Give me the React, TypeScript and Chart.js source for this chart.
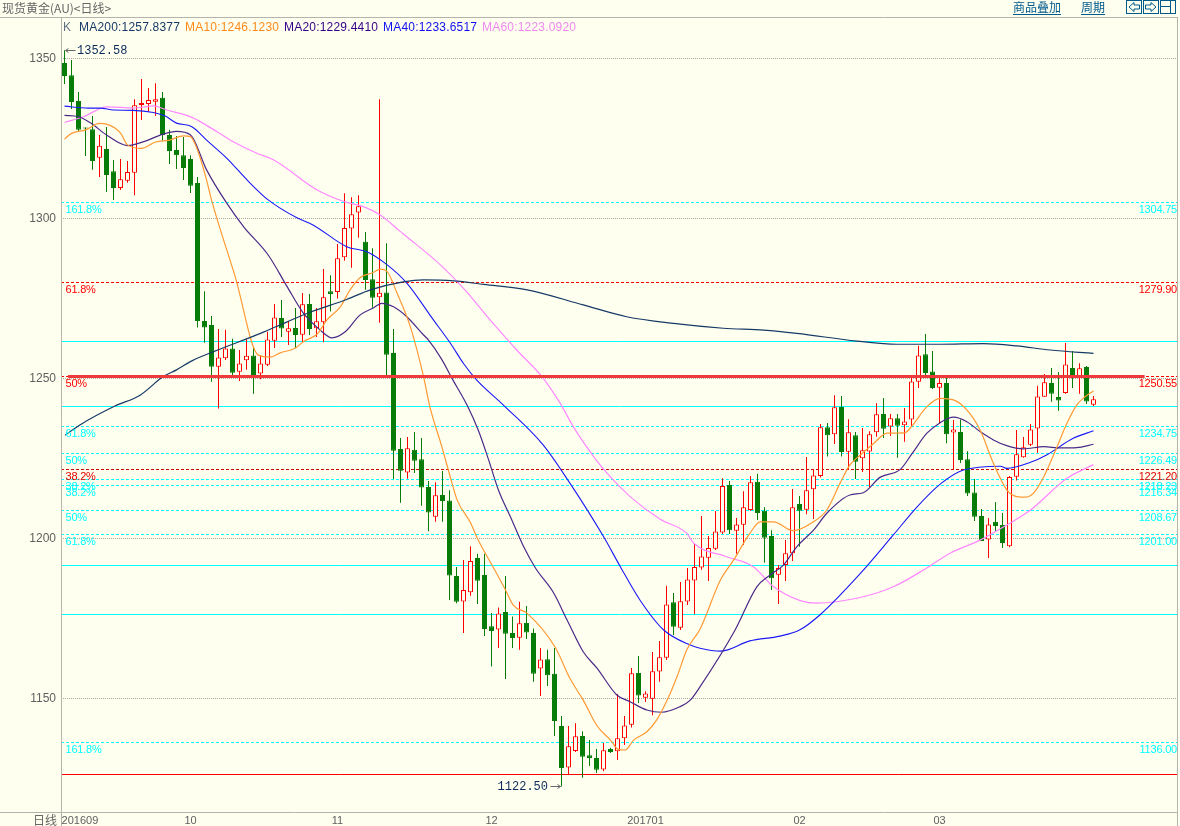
import React, { useEffect, useRef } from "react";
import { Chart, registerables } from "chart.js";

Chart.register(...registerables);

const openPrices = [
  1348.6,1344.8,1336.7,1328.3,1327.9,1319.0,1321.7,1314.8,1309.5,1311.8,
  1314.3,1335.5,1335.8,1336.5,1337.7,1326.1,1321.4,1319.8,1318.6,1311.1,
  1268.0,1266.7,1253.7,1256.3,1259.4,1252.1,1255.7,1257.2,1251.6,1254.3,
  1261.8,1268.9,1264.6,1265.8,1263.7,1273.3,1265.7,1267.6,1277.3,1277.0,
  1287.9,1296.9,1301.9,1292.7,1281.0,1275.4,1276.9,1258.0,1228.0,1220.6,
  1227.7,1224.8,1216.1,1206.8,1213.6,1211.9,1188.3,1180.3,1183.2,1193.9,
  1188.6,1172.6,1171.6,1177.0,1170.5,1169.0,1173.6,1170.5,1159.4,1162.3,
  1157.7,1141.4,1128.4,1133.6,1138.3,1132.3,1131.4,1127.8,1134.2,1133.5,
  1137.6,1141.8,1158.0,1150.2,1149.9,1158.4,1162.7,1180.1,1172.1,1180.3,
  1186.9,1190.9,1194.0,1196.8,1201.9,1216.7,1202.4,1204.3,1208.9,1217.7,
  1208.7,1200.8,1188.7,1191.7,1195.4,1210.8,1209.0,1215.4,1219.5,1234.8,
  1232.6,1241.1,1227.1,1232.3,1225.1,1227.2,1233.2,1238.9,1235.0,1237.6,
  1235.4,1237.2,1249.0,1257.6,1252.2,1247.1,1248.6,1233.1,1233.3,1224.8,
  1214.4,1207.0,1199.7,1205.2,1204.2,1197.6,1219.3,1225.4,1229.3,1234.4,
  1244.3,1248.6,1244.2,1245.5,1253.3,1250.6,1253.6,1241.8,
];
const closePrices = [
  1344.5,1336.4,1327.7,1328.1,1318.0,1322.7,1313.6,1309.5,1312.3,1314.5,
  1335.4,1336.1,1337.0,1337.3,1326.1,1321.1,1319.8,1315.8,1310.2,1268.0,
  1265.9,1253.7,1256.6,1259.4,1251.8,1254.7,1257.1,1250.1,1254.7,1262.2,
  1269.1,1265.6,1265.7,1263.6,1273.2,1265.5,1267.9,1275.4,1276.4,1287.6,
  1297.0,1301.3,1303.8,1280.8,1275.2,1276.8,1257.4,1227.4,1221.2,1228.2,
  1224.3,1215.9,1208.1,1213.5,1211.7,1188.4,1180.2,1183.9,1193.0,1186.8,
  1171.7,1171.1,1176.6,1170.2,1168.9,1173.5,1170.6,1157.7,1162.2,1157.3,
  1143.0,1128.3,1135.1,1138.2,1131.8,1131.4,1127.7,1133.8,1133.3,1137.6,
  1141.6,1157.9,1150.9,1151.6,1158.5,1162.9,1179.4,1172.4,1180.4,1187.2,
  1191.1,1194.4,1197.0,1202.2,1216.4,1202.6,1204.4,1209.8,1217.6,1208.0,
  1200.2,1187.6,1190.8,1195.4,1209.8,1208.7,1215.1,1219.7,1234.8,1232.3,
  1241.0,1227.0,1233.2,1224.0,1227.6,1232.6,1238.8,1234.3,1237.6,1235.2,
  1236.6,1249.1,1257.2,1251.7,1247.0,1248.6,1232.6,1234.1,1224.5,1214.1,
  1206.8,1199.2,1204.4,1203.9,1198.6,1219.2,1226.3,1228.5,1234.1,1244.4,
  1248.8,1245.2,1243.1,1254.4,1250.8,1253.2,1242.8,1243.5,
];
const highPrices = [
  1352.58,1349.5,1339.5,1328.4,1332.0,1326.1,1328.6,1318.3,1318.6,1318.0,
  1337.3,1343.6,1340.8,1342.3,1339.5,1327.7,1325.8,1325.5,1319.8,1313.0,
  1277.3,1269.5,1265.5,1265.2,1262.4,1258.9,1262.3,1259.5,1257.3,1264.6,
  1273.3,1274.5,1268.0,1272.0,1276.7,1276.4,1272.0,1284.2,1282.3,1292.0,
  1307.9,1306.6,1307.3,1295.8,1290.7,1337.3,1292.3,1265.5,1231.4,1231.7,
  1233.3,1231.4,1218.0,1217.6,1221.1,1215.1,1191.1,1193.3,1197.6,1195.2,
  1195.2,1176.7,1178.4,1188.3,1175.6,1180.2,1178.9,1171.9,1165.8,1165.2,
  1165.8,1144.5,1141.4,1142.3,1139.8,1137.0,1134.2,1136.1,1134.6,1151.4,
  1144.5,1159.5,1163.3,1152.3,1164.5,1168.0,1185.2,1183.0,1186.4,1190.8,
  1198.3,1207.0,1200.8,1208.6,1218.8,1218.0,1206.4,1214.8,1219.5,1220.2,
  1209.8,1202.6,1191.7,1199.5,1215.5,1213.3,1225.5,1221.7,1235.8,1236.1,
  1244.8,1244.5,1237.3,1233.3,1234.5,1233.5,1242.3,1243.9,1238.9,1238.9,
  1240.8,1250.8,1260.2,1263.9,1258.6,1250.6,1250.3,1237.0,1237.2,1227.3,
  1218.6,1209.2,1206.4,1211.4,1208.0,1219.5,1233.9,1231.7,1235.8,1247.7,
  1251.4,1253.3,1252.0,1261.1,1258.6,1254.8,1253.9,1244.5,
];
const lowPrices = [
  1342.0,1334.2,1327.0,1319.5,1315.2,1313.0,1308.3,1305.8,1308.9,1311.2,
  1307.3,1330.8,1333.3,1332.0,1324.3,1317.0,1315.5,1312.0,1308.0,1265.9,
  1261.2,1249.0,1240.6,1255.8,1250.6,1249.2,1252.7,1245.2,1249.8,1253.9,
  1259.5,1263.0,1260.5,1259.5,1261.5,1263.6,1263.0,1261.3,1270.9,1275.0,
  1286.8,1284.6,1294.0,1277.7,1272.1,1267.4,1251.1,1218.6,1211.2,1218.7,
  1220.5,1210.2,1202.3,1205.2,1205.2,1180.8,1179.8,1170.5,1182.1,1179.5,
  1169.5,1160.0,1165.8,1156.1,1165.8,1165.2,1168.6,1155.2,1150.8,1153.9,
  1138.3,1122.5,1126.1,1133.3,1125.2,1128.9,1126.7,1127.3,1133.0,1130.8,
  1135.5,1140.9,1148.6,1148.9,1144.8,1155.2,1162.0,1169.8,1171.4,1179.2,
  1176.4,1190.2,1186.7,1196.4,1201.4,1201.4,1195.2,1198.0,1208.7,1205.8,
  1192.4,1183.9,1179.5,1186.7,1193.0,1197.4,1207.6,1206.1,1219.1,1225.6,
  1229.5,1225.6,1221.4,1218.6,1220.8,1216.0,1231.8,1231.4,1232.0,1225.2,
  1230.2,1235.0,1247.0,1250.4,1246.7,1236.0,1229.8,1221.6,1223.6,1213.3,
  1205.5,1199.2,1193.9,1202.3,1197.0,1197.3,1218.1,1225.2,1228.9,1226.8,
  1244.2,1242.7,1239.9,1245.2,1247.0,1245.2,1242.0,1241.4,
];

// Moving averages as [bar number, value] pairs.
const ma10: [number, number][] = [
  [0,1324.8],[1,1326.6],[3,1327.7],[5,1329.7],[6,1329.5],[8,1326.7],[9,1323.0],[11,1321.9],[13,1323.9],[15,1324.5],
  [17,1325.8],[18,1325.6],[19,1321.4],[20.3,1312.0],[21,1305.8],[24.4,1281.7],[27.7,1257.3],[29.4,1256.7],[30.8,1258.0],[33,1259.5],
  [34.1,1261.5],[36.1,1263.9],[37.5,1268.3],[39.4,1272.4],[40.8,1277.7],[42.2,1281.5],[44.1,1283.1],[45.1,1284.2],[46.1,1283.4],[47.5,1276.7],
  [49.4,1266.2],[51.3,1250.5],[52.2,1241.1],[53.9,1228.7],[55.1,1219.3],[56.1,1212.0],[58,1204.9],[59.1,1199.5],[61.3,1190.8],[63,1183.9],
  [64.1,1179.2],[66.1,1176.6],[70.1,1166.0],[72.2,1156.3],[74.1,1149.5],[76.1,1141.4],[78,1137.0],[79.1,1134.1],[80.1,1133.9],[81.3,1137.0],
  [83.2,1139.6],[84.6,1143.3],[86.1,1149.5],[87.5,1156.8],[88.9,1165.2],[90.8,1171.7],[93.7,1187.0],[95.6,1193.3],[97.9,1201.6],[99.4,1205.2],
  [101.3,1205.2],[104.1,1202.4],[107,1205.2],[108.9,1208.9],[110.8,1217.3],[112.2,1223.0],[113.7,1226.1],[115.6,1229.7],[117.5,1232.9],[120,1233.0],
  [121,1235.0],[123.2,1241.2],[125.1,1243.8],[127,1243.3],[128.9,1240.2],[130.8,1233.9],[132.7,1223.5],[134.6,1215.2],[135.6,1213.4],[137.2,1212.9],
  [138.4,1214.1],[139.9,1219.3],[141.8,1228.7],[143.2,1236.0],[144.6,1241.7],[145.8,1244.3],[147,1246.123],
];
const ma20: [number, number][] = [
  [0,1332.2],[2,1331.8],[3.7,1329.9],[6,1326.1],[9,1322.8],[11.3,1324.0],[14,1326.3],[16,1327.2],[18,1326.1],[20.3,1315.2],
  [23.2,1304.7],[25.6,1297.4],[29.1,1288.6],[31.8,1278.7],[34.1,1270.5],[36.5,1265.2],[38.2,1262.7],[40.1,1264.6],[42.2,1269.8],[44.1,1272.0],
  [45.3,1273.5],[47,1272.4],[48.9,1269.3],[51.3,1263.6],[52,1262.0],[53.8,1256.3],[55.5,1249.5],[57.5,1241.7],[59.1,1233.9],[60.6,1224.5],
  [62,1215.1],[63.7,1206.8],[65.6,1197.4],[67.3,1190.7],[69.9,1182.9],[71.8,1174.5],[74.1,1164.6],[76.1,1159.4],[78.9,1151.1],[80.8,1149.0],
  [83.2,1146.4],[85.3,1145.7],[87.9,1147.4],[89.4,1149.5],[90.8,1153.7],[95.8,1171.4],[98.9,1184.9],[100.8,1188.6],[102.7,1191.7],[104.6,1197.4],
  [107,1202.6],[108.9,1207.9],[112.2,1213.6],[114.1,1214.3],[116.5,1219.1],[119.4,1221.6],[121.1,1226.6],[123.2,1232.9],[125.1,1236.2],[127,1237.9],
  [128.9,1236.5],[130.8,1233.4],[132.7,1230.8],[134.6,1229.0],[137,1228.0],[139.9,1228.7],[142.3,1228.3],[144.6,1228.4],[147,1229.441],
];
const ma40: [number, number][] = [
  [0,1335.1],[3.4,1334.5],[5.1,1334.5],[7,1333.9],[9.8,1333.8],[12.7,1333.1],[14.4,1332.0],[16,1329.8],[18.2,1328.7],[20.3,1324.5],
  [23.2,1318.8],[26.1,1312.0],[29.1,1305.8],[33.2,1300.2],[35.5,1298.0],[40.3,1291.2],[43.2,1289.6],[46.1,1285.5],[48.9,1279.8],[52.7,1268.3],
  [55.1,1261.1],[57,1254.7],[58.9,1249.5],[62.7,1241.7],[68.4,1229.2],[72.2,1217.3],[77,1200.6],[79.4,1191.2],[82.2,1180.8],[85.6,1171.4],
  [89.4,1166.7],[90.8,1165.7],[93.7,1164.8],[97.9,1168.0],[102.2,1169.5],[105,1171.4],[107.9,1176.1],[113.7,1189.1],[118.4,1201.1],[121.8,1209.9],
  [125.1,1217.0],[128.4,1221.4],[133.7,1222.6],[134.6,1221.9],[138,1223.8],[140.3,1226.1],[144.1,1231.3],[147,1233.652],
];
const ma60: [number, number][] = [
  [0,1330.0],[2.7,1331.8],[6.1,1334.9],[9.9,1334.5],[12.7,1335.2],[14.6,1333.9],[18.2,1331.6],[21.8,1327.1],[24.1,1324.0],[27.5,1320.4],
  [29.9,1318.3],[36.1,1308.9],[39.9,1305.3],[42.7,1303.7],[45.1,1301.1],[48,1295.9],[48.9,1294.3],[53.7,1285.5],[57.2,1277.7],[60.8,1268.3],
  [64.6,1258.9],[68.2,1250.6],[70.8,1242.3],[72.7,1234.9],[75.1,1227.1],[77.5,1220.4],[80.8,1213.1],[85.1,1206.0],[88.9,1201.6],[89.9,1198.5],
  [94.6,1194.3],[98.4,1191.2],[101.3,1184.9],[105.1,1180.6],[107.5,1179.8],[114.1,1181.8],[118.4,1184.9],[122.9,1190.4],[126.5,1195.4],[130.8,1199.5],
  [134.6,1204.2],[138,1208.9],[143.2,1218.8],[147,1223.092],
];
const ma200: [number, number][] = [
  [0.1,1232.3],[2.2,1235.5],[7.2,1241.4],[10.8,1244.8],[14.1,1250.6],[16,1252.7],[18.2,1255.5],[21.3,1258.4],[28,1264.1],[31.8,1267.7],
  [35.1,1270.7],[40.3,1274.7],[43.7,1277.7],[48.4,1280.2],[51.3,1280.8],[55.6,1280.5],[59.9,1279.4],[66.1,1277.7],[74.1,1273.0],[80.3,1269.3],
  [87,1267.2],[94.1,1265.7],[99.9,1265.1],[104.6,1264.1],[113.2,1261.7],[118.9,1260.7],[125.1,1260.7],[131.3,1260.9],[136,1260.2],[140.8,1258.9],[147,1257.838],
];

const yTickValues = [1150, 1200, 1250, 1300, 1350];
const monthLabels = ["201609", "10", "11", "12", "201701", "02", "03"];
const monthBars = [2.2, 18, 39, 61, 83, 105, 125];

const fibValues = [1304.75, 1279.9, 1250.55, 1234.75, 1226.49, 1221.2, 1218.23, 1216.34, 1208.67, 1201.0, 1136.0];
const fibPercents = ["161.8%", "61.8%", "50%", "61.8%", "50%", "38.2%", "38.2%", "38.2%", "50%", "61.8%", "161.8%"];
const cyanSolidLevels = [1261.6, 1241.3, 1191.6, 1176.2];
const redSolidLevel = 1126.3;
const pivotLevel = 1250.55;
const pivotBars = [0.5, 154.3];
const fibColors = ["#00ffff", "#ff0000", "#ff0000", "#00ffff", "#00ffff", "#cc0000", "#00ffff", "#00ffff", "#00ffff", "#00ffff", "#00ffff"];

const BG = "#fffff0";
const AXIS = "#b4b4ac";
const SANS = '"Liberation Sans", Arial, sans-serif';
const CJK = '"Noto Sans CJK SC", sans-serif';
const MONO = '"Liberation Mono", monospace';

const maSeries = [
  { label: "MA200", data: ma200, color: "#163a66", text: "#163a66", width: 1.2, value: "1257.8377", x: 79 },
  { label: "MA10", data: ma10, color: "#ff9933", text: "#ff8a1a", width: 1.2, value: "1246.1230", x: 185 },
  { label: "MA20", data: ma20, color: "#4a2a88", text: "#330088", width: 1.2, value: "1229.4410", x: 284 },
  { label: "MA40", data: ma40, color: "#1a1af5", text: "#1010ee", width: 1.1, value: "1233.6517", x: 383 },
  { label: "MA60", data: ma60, color: "#ff88ff", text: "#ee88ee", width: 1.2, value: "1223.0920", x: 482 },
];

const chromePlugin = {
  id: "chrome",
  beforeDraw(chart: any) {
    const { ctx, width, height } = chart;
    ctx.save();
    ctx.fillStyle = BG;
    ctx.fillRect(0, 0, width, height);
    ctx.restore();
  },
  beforeDatasetsDraw(chart: any) {
    const { ctx, chartArea: a, scales } = chart;
    const y = scales.y;
    ctx.save();
    ctx.lineWidth = 1;
    ctx.strokeStyle = "#00ffff";
    cyanSolidLevels.forEach((v) => {
      const py = Math.floor(y.getPixelForValue(v)) + 0.5;
      ctx.beginPath(); ctx.moveTo(a.left, py); ctx.lineTo(a.right, py); ctx.stroke();
    });
    ctx.strokeStyle = "#ff0000";
    const ry = Math.floor(y.getPixelForValue(redSolidLevel)) + 0.5;
    ctx.beginPath(); ctx.moveTo(a.left, ry); ctx.lineTo(a.right, ry); ctx.stroke();
    ctx.setLineDash([3, 2]);
    fibValues.forEach((v, i) => {
      const py = Math.floor(y.getPixelForValue(v) - 0.7) + 0.5;
      ctx.strokeStyle = fibColors[i];
      ctx.beginPath(); ctx.moveTo(a.left, py); ctx.lineTo(a.right, py); ctx.stroke();
    });
    ctx.restore();
  },
  afterDatasetsDraw(chart: any) {
    const { ctx, chartArea: a, scales, height } = chart;
    const x = scales.x;
    const y = scales.y;
    ctx.save();

    // pivot band over the candles
    ctx.fillStyle = "#ee3a3a";
    const pivotY = Math.floor(y.getPixelForValue(pivotLevel) - 0.7);
    const x0 = x.getPixelForValue(pivotBars[0]);
    const x1 = x.getPixelForValue(pivotBars[1]);
    ctx.fillRect(x0, pivotY - 1, x1 - x0, 3);

    // level captions
    ctx.font = `11px ${SANS}`;
    ctx.textBaseline = "middle";
    ctx.letterSpacing = "-0.2px";
    fibValues.forEach((v, i) => {
      const py = Math.floor(y.getPixelForValue(v) - 0.7) + 7.5;
      const c = fibColors[i] === "#cc0000" ? "#e00000" : fibColors[i];
      ctx.fillStyle = c;
      ctx.textAlign = "left";
      ctx.fillText(fibPercents[i], a.left + 4.5, py);
      ctx.textAlign = "right";
      ctx.fillText(v.toFixed(2), 1177, py);
    });
    ctx.letterSpacing = "0px";

    // frame
    ctx.strokeStyle = AXIS;
    ctx.lineWidth = 1;
    ctx.beginPath();
    ctx.moveTo(0, 17.5); ctx.lineTo(1178, 17.5);
    ctx.moveTo(0, 812.5); ctx.lineTo(1178, 812.5);
    ctx.moveTo(61.5, 17.5); ctx.lineTo(61.5, height);
    ctx.moveTo(1177.5, 17.5); ctx.lineTo(1177.5, height);
    ctx.stroke();

    // header
    ctx.textBaseline = "middle";
    ctx.textAlign = "left";
    ctx.fillStyle = "#666666";
    ctx.font = `12px ${CJK}`;
    ctx.fillText("现货黄金(AU)<日线>", 2, 8);
    ctx.textAlign = "right";
    ctx.fillText("日线", 57, 820);
    ctx.textAlign = "left";

    ctx.font = `12px ${SANS}`;
    ctx.fillStyle = "#607080";
    ctx.fillText("K", 63, 28);
    ctx.letterSpacing = "0.2px";
    maSeries.forEach((m) => {
      ctx.fillStyle = m.text;
      ctx.fillText(`${m.label}:${m.value}`, m.x, 28);
    });
    ctx.letterSpacing = "0px";

    // top-right menu
    const menu = "#005a8c";
    ctx.fillStyle = menu;
    ctx.font = `12px ${CJK}`;
    ctx.fillText("商品叠加", 1013, 7);
    ctx.fillText("周期", 1081, 7);
    ctx.strokeStyle = menu;
    ctx.beginPath();
    ctx.moveTo(1013, 14.5); ctx.lineTo(1061, 14.5);
    ctx.moveTo(1081, 14.5); ctx.lineTo(1105, 14.5);
    ctx.stroke();
    ctx.strokeRect(1126.5, 0.5, 15, 13);
    ctx.strokeRect(1143.5, 0.5, 15, 13);
    ctx.strokeRect(1160.5, 0.5, 15, 13);
    ctx.beginPath();
    ctx.moveTo(1129, 7); ctx.lineTo(1134, 2.5); ctx.lineTo(1134, 5); ctx.lineTo(1139.5, 5);
    ctx.lineTo(1139.5, 9); ctx.lineTo(1134, 9); ctx.lineTo(1134, 11.5); ctx.closePath();
    ctx.moveTo(1156, 7); ctx.lineTo(1151, 2.5); ctx.lineTo(1151, 5); ctx.lineTo(1145.5, 5);
    ctx.lineTo(1145.5, 9); ctx.lineTo(1151, 9); ctx.lineTo(1151, 11.5); ctx.closePath();
    ctx.moveTo(1170.5, 0.5); ctx.lineTo(1170.5, 13.5);
    ctx.moveTo(1160.5, 6.5); ctx.lineTo(1170.5, 6.5);
    ctx.stroke();

    // high and low call-outs
    const hiIdx = highPrices.indexOf(Math.max(...highPrices));
    const loIdx = lowPrices.indexOf(Math.min(...lowPrices));
    const hx = x.getPixelForValue(hiIdx);
    const hy = Math.round(y.getPixelForValue(highPrices[hiIdx])) + 0.5;
    const lx = x.getPixelForValue(loIdx);
    const ly = Math.round(y.getPixelForValue(lowPrices[loIdx])) + 0.5;
    ctx.strokeStyle = "#666666";
    ctx.beginPath();
    ctx.moveTo(hx + 1, hy); ctx.lineTo(hx + 11, hy);
    ctx.moveTo(hx + 1, hy); ctx.lineTo(hx + 4, hy - 2);
    ctx.moveTo(hx + 1, hy); ctx.lineTo(hx + 4, hy + 2);
    ctx.moveTo(lx - 11, ly); ctx.lineTo(lx - 1, ly);
    ctx.moveTo(lx - 1, ly); ctx.lineTo(lx - 4, ly - 2);
    ctx.moveTo(lx - 1, ly); ctx.lineTo(lx - 4, ly + 2);
    ctx.stroke();
    ctx.fillStyle = "#0a2a5a";
    ctx.font = `12px ${MONO}`;
    ctx.textAlign = "left";
    ctx.fillText(highPrices[hiIdx].toFixed(2), hx + 12.5, hy + 0.5);
    ctx.textAlign = "right";
    ctx.fillText(lowPrices[loIdx].toFixed(2), lx - 13.5, ly + 0.5);
    ctx.restore();
  },
};

export default function App() {
  const ref = useRef<HTMLCanvasElement | null>(null);

  useEffect(() => {
    document.body.style.margin = "0";
    document.body.style.background = BG;
    const bars = openPrices.map((_, i) => i);
    const isUp = (i: number) => closePrices[i] >= openPrices[i];
    const chart = new Chart(ref.current as HTMLCanvasElement, {
      type: "bar",
      data: {
        datasets: [
          ...maSeries.map((m) => ({
            type: "line" as const,
            label: m.label,
            data: m.data.map(([x, y]) => ({ x, y })),
            borderColor: m.color,
            borderWidth: m.width,
            pointRadius: 0,
            cubicInterpolationMode: "monotone",
            fill: false,
            order: 1,
          })),
          {
            type: "bar" as const,
            label: "K body",
            data: bars.map((i) => ({ x: i, y: [openPrices[i], closePrices[i]] })),
            backgroundColor: bars.map((i) => (isUp(i) ? BG : "#087c08")),
            borderColor: bars.map((i) => (isUp(i) ? "#ff0000" : "#087c08")),
            borderWidth: 1,
            borderSkipped: false,
            inflateAmount: 0,
            barThickness: 5,
            minBarLength: 1,
            grouped: false,
            order: 2,
          },
          {
            type: "bar" as const,
            label: "K wick",
            data: bars.map((i) => ({ x: i, y: [lowPrices[i], highPrices[i]] })),
            backgroundColor: bars.map((i) => (isUp(i) ? "#ff0000" : "#087c08")),
            borderWidth: 0,
            inflateAmount: 0,
            barThickness: 1,
            grouped: false,
            order: 3,
          },
        ] as any,
      },
      options: {
        responsive: false,
        devicePixelRatio: 1,
        animation: false,
        events: [],
        layout: { padding: { top: 17.5, right: 2, left: 0, bottom: 0 } },
        plugins: { legend: { display: false }, tooltip: { enabled: false }, title: { display: false } },
        scales: {
          x: {
            type: "linear",
            min: -0.5,
            max: 159.07,
            offset: false,
            grid: { display: false, drawTicks: false },
            border: { display: false },
            afterBuildTicks: (s: any) => {
              s.ticks = monthBars.map((value) => ({ value }));
            },
            afterFit: (s: any) => {
              s.height = 13.5;
            },
            ticks: {
              autoSkip: false,
              maxRotation: 0,
              minRotation: 0,
              padding: 2,
              color: "#606060",
              font: { size: 11, family: SANS },
              callback: (_: any, i: number) => monthLabels[i],
            },
          },
          y: {
            type: "linear",
            min: 1114.375,
            max: 1362.81,
            grid: { color: "#aaaaa0", drawTicks: false, lineWidth: 1 },
            border: { display: false, dash: [1, 1] },
            afterBuildTicks: (s: any) => {
              s.ticks = yTickValues.map((value) => ({ value }));
            },
            afterFit: (s: any) => {
              s.width = 61;
            },
            ticks: {
              padding: 5,
              color: "#606060",
              font: { size: 12, family: SANS },
              callback: (v: any) => String(v),
            },
          },
        },
      } as any,
      plugins: [chromePlugin],
    });
    return () => chart.destroy();
  }, []);

  return (
    <div style={{ position: "fixed", inset: 0, background: BG }}>
      <canvas ref={ref} width={1180} height={826} style={{ display: "block", width: 1180, height: 826 }} />
    </div>
  );
}
